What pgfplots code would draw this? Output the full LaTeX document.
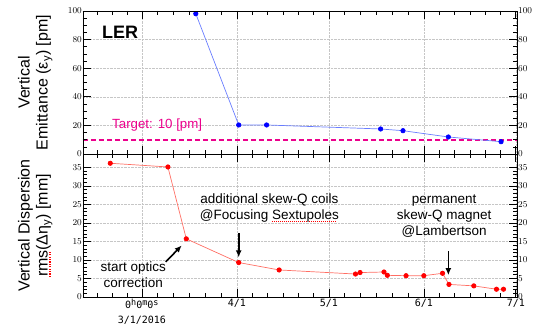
\documentclass[border=0pt]{standalone}
\usepackage{fontspec}
\setmainfont{Liberation Sans}
\newfontfamily\tickfont{DejaVu Sans Mono}
\usepackage{pgfplots}
\pgfplotsset{compat=1.18}
\usetikzlibrary{arrows.meta}
\definecolor{lineblue}{RGB}{105,125,255}
\definecolor{linered}{RGB}{255,110,100}
\newcommand\reddots[1]{\setbox0\hbox{#1}\rlap{\raisebox{-0.35ex}{\color{red}\hbox to \wd0{\leaders\hbox{\rule{0.07em}{0.07em}\kern0.08em}\hfill}}}\box0}
\newcommand\timesup[1]{\raisebox{0.6ex}{\fontsize{8.5}{8.5}\selectfont #1}}
\pgfplotsset{panel/.style={
  width=434pt, height=143pt, scale only axis,
  xmin=-19.2, xmax=122.4,
  xtick={0,31,61,92,122},
  minor xtick={-14.5,-9.7,-4.8,5.17,10.33,15.5,20.67,25.83,36,41,46,51,56,66.17,71.33,76.5,81.67,86.83,97,102,107,112,117},
  xtick pos=both, ytick pos=both, tick align=inside,
  major tick length=8pt, minor tick length=4pt,
  every tick/.style={black, line width=0.6pt},
  axis line style={line width=0.8pt},
  yticklabel style={font=\tickfont\fontsize{9}{9}\selectfont, inner sep=1pt},
  xticklabel style={font=\tickfont\fontsize{10}{15}\selectfont, align=center, inner sep=2pt},
  ylabel style={align=center, font=\fontsize{16}{18}\selectfont, at={(axis description cs:-0.11,0.5)}, anchor=center},
}}
\begin{document}
\begin{tikzpicture}
\useasboundingbox (-83pt,-32pt) rectangle (457pt,297pt);
% top panel
\begin{axis}[panel, at={(0pt,143pt)}, anchor=south west,
  ymin=0, ymax=100, ytick={0,20,...,100}, minor y tick num=3,
  xticklabels={},
  grid=major, major grid style={densely dotted, gray!45, line width=0.5pt},
  ylabel={Vertical\\Emittance (ε\textsubscript{y}) [pm]}]
\addplot[magenta, line width=1.8pt, dash pattern=on 5pt off 3pt] coordinates {(-19.2,10) (122.4,10)};
\addplot[color=lineblue, line width=0.7pt, mark=*, mark size=2.2pt, mark options={fill=blue, draw=blue}] coordinates {
(17.6,98.1) (31.6,20.3) (40.7,20.3) (77.9,17.5) (85.2,16.3) (100.0,11.9) (117.2,8.6)};
\node[font=\fontsize{18}{18}\selectfont\bfseries] at (axis cs:-7.1,85.3) {LER};
\node[magenta, font=\fontsize{13.3}{16}\selectfont] at (axis cs:5.0,20.3) {Target: 10 [pm]};
\end{axis}
\begin{axis}[panel, at={(0pt,143pt)}, anchor=south west,
  ymin=0, ymax=100, ytick={0,20,...,100}, minor y tick num=3,
  xticklabels={}, yticklabel pos=right]
\end{axis}
% bottom panel
\begin{axis}[panel, at={(0pt,0pt)}, anchor=south west,
  ymin=0, ymax=38.6, ytick={0,5,...,35}, minor y tick num=4,
  xticklabels={{0\timesup{h}0\timesup{m}0\timesup{s}\\3/1/2016},4/1,5/1,6/1,7/1},
  grid=major, major grid style={densely dotted, gray!45, line width=0.5pt},
  ylabel={Vertical Dispersion\\\reddots{rms}(Δη\textsubscript{y}) [mm]}]
\addplot[color=linered, line width=0.7pt, mark=*, mark size=2.2pt, mark options={fill=red, draw=red}] coordinates {
(-10.3,36.1) (8.5,35.1) (14.5,15.7) (31.6,9.3) (44.8,7.3) (69.7,6.2) (71.2,6.6) (79.0,6.75) (80.1,5.85) (86.2,5.75) (92.0,5.75) (98.1,6.4) (100.2,3.4) (108.3,3.0) (115.7,2.1) (118.0,2.1)};
\node[align=center, font=\fontsize{13.5}{16}\selectfont] at (axis cs:-2.8,5.9) {start optics\\correction};
\node[align=center, font=\fontsize{13.5}{15.5}\selectfont] at (axis cs:41.6,24.0) {additional skew-Q coils\\@Focusing \reddots{Sextupoles}};
\node[align=center, font=\fontsize{13.5}{16}\selectfont] at (axis cs:98.6,21.8) {permanent\\skew-Q magnet\\@Lambertson};
\draw[line width=1.6pt, -{Latex[length=7pt,width=6pt]}] (axis cs:7.8,9.5) -- (axis cs:13.0,13.9);
\draw[line width=1.6pt, -{Latex[length=7pt,width=6pt]}] (axis cs:31.6,17.2) -- (axis cs:31.6,10.7);
\draw[line width=1.6pt, -{Latex[length=7pt,width=6pt]}] (axis cs:100.0,12.4) -- (axis cs:100.0,5.9);
\end{axis}
\begin{axis}[panel, at={(0pt,0pt)}, anchor=south west,
  ymin=0, ymax=38.6, ytick={0,5,...,35}, minor y tick num=4,
  xticklabels={}, yticklabel pos=right]
\end{axis}
\end{tikzpicture}
\end{document}
